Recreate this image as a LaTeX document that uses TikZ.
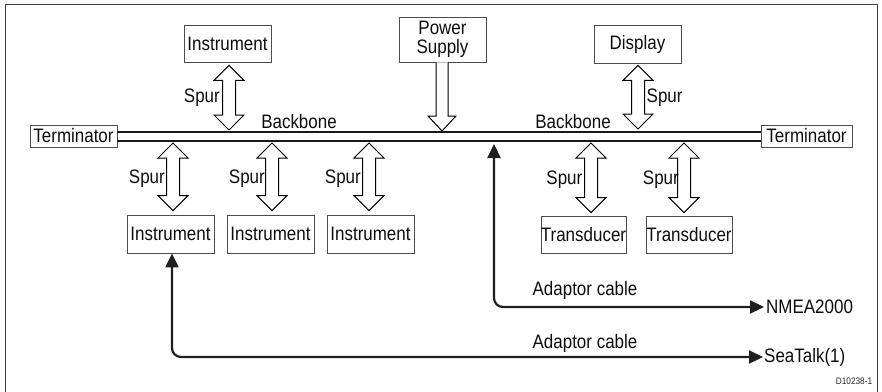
\documentclass[tikz,border=0pt]{standalone}
\usepackage{fontspec}
\setmainfont{Liberation Sans}[FakeStretch=0.87]
\usetikzlibrary{arrows.meta,calc}
\newcommand\lblfont{\fontsize{19.5}{18.5}\selectfont}
\newcommand\spurarrow[2]{%
  \draw[spurst] let \p1=#1, \p2=#2 in
   (\x1,\y1) -- (\x1+15pt,\y1-15pt) -- (\x1+6.5pt,\y1-15pt) -- (\x1+6.5pt,\y2+15pt)
   -- (\x1+15pt,\y2+15pt) -- (\x1,\y2) -- (\x1-15pt,\y2+15pt) -- (\x1-6.5pt,\y2+15pt)
   -- (\x1-6.5pt,\y1-15pt) -- (\x1-15pt,\y1-15pt) -- cycle;}
\begin{document}
\begin{tikzpicture}[x=1pt,y=-1pt,
  box/.style={draw=black!70, line width=0.8pt, inner sep=0pt, align=center, text=black!95, font=\lblfont},
  lbl/.style={inner sep=0pt, text=black!95, font=\lblfont},
  spurst/.style={draw=black, line width=1pt, fill=white, line join=miter},
  bbline/.style={draw=black!90, line width=2pt},
  cable/.style={draw=black!88, line width=2.2pt, rounded corners=9pt,
    {Triangle[length=14pt,width=13pt]}-{Triangle[length=14pt,width=13pt]}}]
\useasboundingbox (0,0) rectangle (882,391);
\draw[draw=black!75, line width=0.9pt] (5,4) rectangle (877.5,400);

% nodes
\node[box, minimum width=87pt, minimum height=37pt] (inst0) at (227.5,43.5) {Instrument};
\node[box, minimum width=87pt, minimum height=45pt] (psu) at (442.5,39.5) {Power\\[0.5pt]Supply};
\node[box, minimum width=87pt, minimum height=38pt] (disp) at (637.5,44) {Display};
\node[box, minimum width=87pt, minimum height=22pt] (termL) at (73.5,136) {Terminator};
\node[box, minimum width=91pt, minimum height=22pt] (termR) at (806.5,136) {Terminator};
\node[box, minimum width=87pt, minimum height=38pt] (inst1) at (170.5,234) {Instrument};
\node[box, minimum width=87pt, minimum height=38pt] (inst2) at (270.5,234) {Instrument};
\node[box, minimum width=87pt, minimum height=38pt] (inst3) at (370.5,234) {Instrument};
\node[box, minimum width=81pt, minimum height=37pt] (td1) at (583.5,234.5) {Transducer};
\node[box, minimum width=86pt, minimum height=37pt] (td2) at (689,234.5) {Transducer};

% backbone
\coordinate (bbT) at (117,132);
\coordinate (bbB) at (117,141);
\draw[bbline] (termL.east |- bbT) -- (termR.west |- bbT);
\draw[bbline] (termL.east |- bbB) -- (termR.west |- bbB);
\node[lbl] (bbl1) at (299,122) {Backbone};
\node[lbl] (bbl2) at (573,122) {Backbone};

% spurs
\spurarrow{($(inst0.south)+(1.5,3)$)}{($(inst0.south |- bbT)+(1.5,-2)$)}
\node[lbl, anchor=east] (sp0) at ($(inst0.south)+(-7.5,35)$) {Spur};
\spurarrow{($(disp.south)+(0.5,2)$)}{($(disp.south |- bbT)+(0.5,-3)$)}
\node[lbl, anchor=west] (sp6) at ($(disp.south)+(9,34)$) {Spur};

\spurarrow{($(inst1.north |- bbB)+(2.5,2)$)}{($(inst1.north)+(2.5,-4)$)}
\spurarrow{($(inst2.north |- bbB)+(1.5,2)$)}{($(inst2.north)+(1.5,-4)$)}
\spurarrow{($(inst3.north |- bbB)+(-1.5,2)$)}{($(inst3.north)+(-1.5,-4)$)}
\spurarrow{($(td1.north |- bbB)+(7.5,2)$)}{($(td1.north)+(7.5,-3)$)}
\spurarrow{($(td2.north |- bbB)+(-5,2)$)}{($(td2.north)+(-5,-3)$)}
\node[lbl, anchor=east] (sp1) at ($(inst1.north)+(-5.5,-36)$) {Spur};
\node[lbl, anchor=east] (sp2) at ($(inst2.north)+(-5.5,-36)$) {Spur};
\node[lbl, anchor=east] (sp3) at ($(inst3.north)+(-9.5,-36)$) {Spur};
\node[lbl, anchor=east] (sp4) at ($(td1.north)+(-1,-36)$) {Spur};
\node[lbl, anchor=east] (sp5) at ($(td2.north)+(-10,-36)$) {Spur};

% power supply arrow
\draw[spurst] let \p1=($(psu.south)+(-0.5,0)$), \p2=($(psu.south |- bbT)+(-0.5,-1)$) in
  (\x1-6pt,\y1) -- (\x1-6pt,\y2+15pt) -- (\x1-14pt,\y2+15pt) -- (\x1,\y2)
  -- (\x1+14pt,\y2+15pt) -- (\x1+6pt,\y2+15pt) -- (\x1+6pt,\y1);

% adaptor cables
\node[lbl, anchor=west] (nmea) at (766,307) {NMEA2000};
\node[lbl, anchor=west] (stk) at (764,357) {SeaTalk(1)};
\coordinate (nmeaTip) at (494,144);
\draw[cable] (nmeaTip) |- ($(nmea.west)+(-2,0)$);
\draw[cable] (inst1.south) ++(1.5,0) coordinate (stTip) |- ($(stk.west)+(-1,0)$);
\node[lbl] (ac1) at (585,290) {Adaptor cable};
\node[lbl] (ac2) at (585,343) {Adaptor cable};

\node[inner sep=0pt, text=black!85, font=\fontsize{9.5}{10}\selectfont] (code) at (854,381) {D10238-1};
\end{tikzpicture}
\end{document}
